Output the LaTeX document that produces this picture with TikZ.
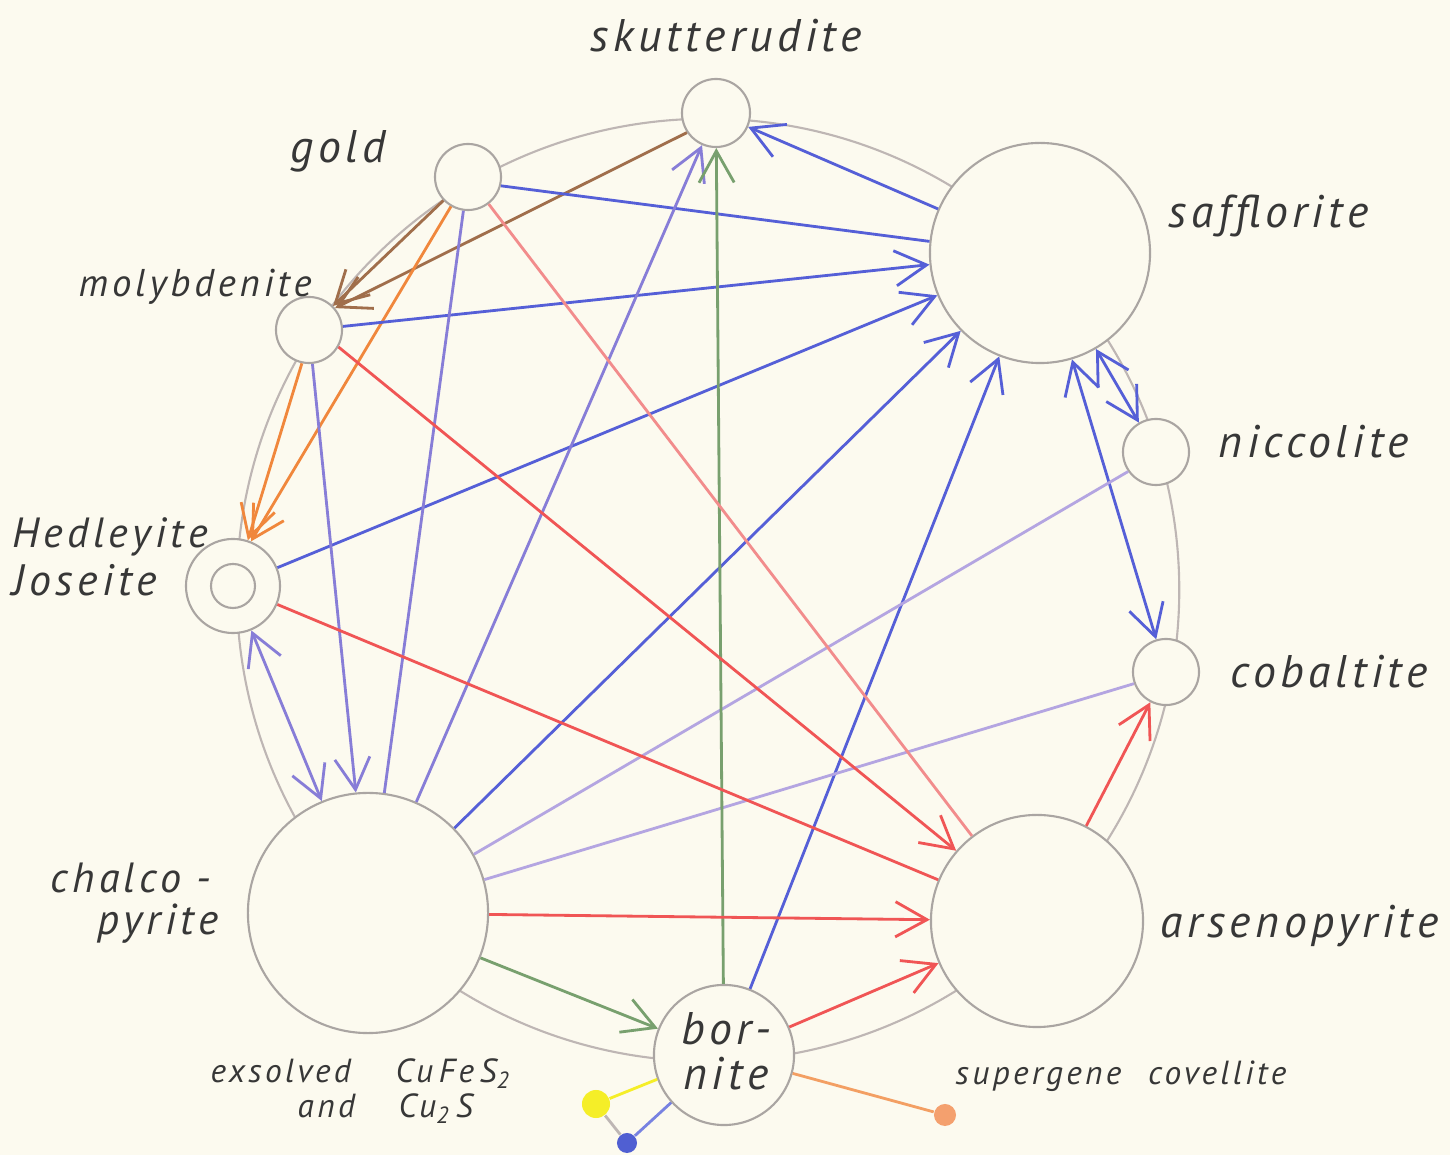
\documentclass[tikz,border=0pt]{standalone}
\usepackage{fontspec}
\setmainfont{PT Sans}
\newfontfamily\hand[LetterSpace=10]{PT Sans}
\usetikzlibrary{arrows.meta}
\definecolor{bg}{RGB}{252,250,239}
\definecolor{ringc}{RGB}{190,182,180}
\definecolor{circc}{RGB}{170,165,162}
\definecolor{txt}{RGB}{55,55,55}
\definecolor{brownc}{RGB}{160,110,75}
\definecolor{orangec}{RGB}{240,135,60}
\definecolor{bluec}{RGB}{85,95,215}
\definecolor{lbluec}{RGB}{120,130,225}
\definecolor{purplec}{RGB}{135,125,215}
\definecolor{lpurplec}{RGB}{180,165,225}
\definecolor{greenc}{RGB}{120,160,110}
\definecolor{redc}{RGB}{240,85,85}
\definecolor{pinkc}{RGB}{242,140,140}
\definecolor{yellowc}{RGB}{245,238,40}
\definecolor{dotblue}{RGB}{80,95,210}
\definecolor{dotorange}{RGB}{244,160,110}
\begin{document}
\begin{tikzpicture}[x=0.01cm,y=-0.01cm,
  mineral/.style={circle,draw=circc,fill=bg,line width=0.6pt,inner sep=0pt},
  ring/.style={draw=ringc,line width=0.6pt},
  lab/.style={text=txt,font=\hand\itshape\fontsize{13}{15}\selectfont,inner sep=0pt},
  smalllab/.style={lab,font=\hand\itshape\fontsize{9.5}{11}\selectfont},
  con/.style={line width=0.8pt},
  tip/.style={-{Straight Barb[length=9pt,width=10pt]}},
  tips/.style={{Straight Barb[length=9pt,width=10pt]}-{Straight Barb[length=9pt,width=10pt]}},
  dotn/.style={circle,inner sep=0pt,draw=none}]
\fill[bg] (0,0) rectangle (1450,1155);
\useasboundingbox (0,0) rectangle (1450,1155);
% ring
\draw[ring] (708,590) circle[radius=4.71cm];
% minerals
\node[mineral,minimum size=0.68cm] (sk) at (716,113) {};
\node[mineral,minimum size=0.66cm] (go) at (468,177) {};
\node[mineral,minimum size=0.66cm] (mo) at (309,330) {};
\node[mineral,minimum size=0.94cm] (he) at (233,586) {};
\node[mineral,minimum size=0.44cm] (hei) at (233,586) {};
\node[mineral,minimum size=2.20cm] (sa) at (1040,253) {};
\node[mineral,minimum size=0.66cm] (ni) at (1156,452) {};
\node[mineral,minimum size=0.66cm] (co) at (1166,672) {};
\node[mineral,minimum size=2.40cm] (ch) at (368,913) {};
\node[mineral,minimum size=2.12cm] (ar) at (1037,921) {};
\node[mineral,minimum size=1.40cm] (bo) at (724,1055) {};
% dots
\node[dotn,fill=yellowc,minimum size=0.28cm] (yd) at (596,1104) {};
\node[dotn,fill=dotblue,minimum size=0.20cm] (bd) at (627,1143) {};
\node[dotn,fill=dotorange,minimum size=0.22cm] (od) at (945,1115) {};
\draw[con,yellowc] (bo.200) -- (yd);
\draw[con,lbluec] (bo.222) -- (bd);
\draw[con,ringc] (yd) -- (bd);
\draw[con,orangec!80] (bo.-15) -- (od);
% brown
\draw[con,brownc,tip] (go) -- (mo.45);
\draw[con,brownc,tip] (sk.214) -- (mo.40);
% orange
\draw[con,orangec,tip] (go.240) -- (he.68);
\draw[con,orangec,tip] (mo.258) -- (he.72);
% blue
\draw[con,bluec] (go.345) -- (sa.174);
\draw[con,bluec,tip] (sa) -- (sk);
\draw[con,bluec,tip] (mo) -- (sa);
\draw[con,bluec,tip] (he) -- (sa);
\draw[con,bluec,tip] (ch) -- (sa);
\draw[con,bluec,tip] (bo) -- (sa);
\draw[con,bluec,tips] (sa) -- (co);
\draw[con,bluec,tips] (sa) -- (ni);
% purple
\draw[con,purplec] (go) -- (ch);
\draw[con,purplec,tip] (mo) -- (ch);
\draw[con,purplec,tips] (he) -- (ch);
\draw[con,purplec,tip] (ch) -- (sk);
\draw[con,lpurplec] (ch.29) -- (ni.215);
\draw[con,lpurplec] (ch.16) -- (co.200);
% green
\draw[con,greenc,tip] (bo) -- (sk);
\draw[con,greenc,tip] (ch) -- (bo);
% red
\draw[con,pinkc] (go) -- (ar);
\draw[con,redc,tip] (mo.-30) -- (ar.139);
\draw[con,redc] (he) -- (ar);
\draw[con,redc,tip] (ch) -- (ar);
\draw[con,redc,tip] (bo) -- (ar);
\draw[con,redc,tip] (ar) -- (co);
% labels
\node[lab,anchor=base west] (lsk) at (590,52) {skutterudite};
\node[lab,anchor=base west] (lgo) at (290,163) {gold};
\node[lab,anchor=base west,font=\hand\itshape\fontsize{11}{13}\selectfont] (lmo) at (78,297) {molybdenite};
\node[lab,anchor=base west] (lsa) at (1168,228) {safflorite};
\node[lab,anchor=base west] (lni) at (1218,458) {niccolite};
\node[lab,anchor=base west,font=\hand\itshape\fontsize{12}{14}\selectfont] (lhe) at (12,548) {Hedleyite};
\node[lab,anchor=base west,font=\hand\itshape\fontsize{12.5}{14}\selectfont] (ljo) at (12,596) {Joseite};
\node[lab,anchor=base west] (lco) at (1230,688) {cobaltite};
\node[lab,anchor=base west,font=\hand\itshape\fontsize{12}{14}\selectfont] (lch) at (50,893) {chalco -};
\node[lab,anchor=base west,font=\hand\itshape\fontsize{12.3}{14}\selectfont] (lpy) at (97,935) {pyrite};
\node[lab,anchor=base west] (lar) at (1160,938) {arsenopyrite};
\node[lab,anchor=base] (lbo) at (726,1045) {bor-};
\node[lab,anchor=base] (lnt) at (726,1090) {nite};
\node[smalllab,anchor=base west] (lex) at (210,1083) {exsolved};
\node[smalllab,anchor=base west] (lcu) at (395,1083) {Cu\,Fe\,S\textsubscript{2}};
\node[smalllab,anchor=base west] (lan) at (297,1118) {and};
\node[smalllab,anchor=base west] (lcs) at (398,1118) {Cu\textsubscript{2}\,S};
\node[smalllab,anchor=base west] (lsc) at (955,1085) {supergene\hspace{0.8em}covellite};
\end{tikzpicture}
\end{document}
